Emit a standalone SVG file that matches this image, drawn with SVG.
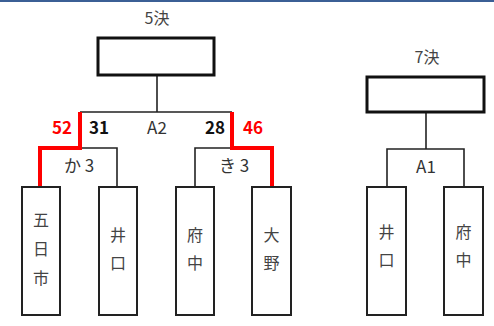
<svg xmlns="http://www.w3.org/2000/svg" width="494" height="326" viewBox="0 0 494 326">
<style>
text{font-family:"Noto Sans CJK JP","Noto Sans",sans-serif;font-size:17px;fill:#333;text-anchor:middle}
.b{font-weight:bold;fill:#111}
.r{font-weight:bold;fill:#ff0000}
.k{font-size:16px;fill:#444}
.head{fill:#fff;stroke:#111;stroke-width:3}
.team{fill:#fff;stroke:#222;stroke-width:2}
.ln{fill:none;stroke:#222;stroke-width:1.6}
.win{fill:none;stroke:#ff0000;stroke-width:4}
</style>
<rect x="0" y="0" width="494" height="326" fill="#fff"/>
<line x1="0" y1="1" x2="494" y2="1" stroke="#3b5f95" stroke-width="2"/>
<g id="connectors">
<path class="ln" d="M157 75V112M80 112H232M40 148H117V187M195 187V148H232"/>
<path class="ln" d="M426 112V149M387 187V149H464V187"/>
<path class="win" d="M80 112V148H40V187"/>
<path class="win" d="M232 112V148H272V187"/>
</g>
<g id="final5"><text class="k" x="157" y="24">5決</text><rect class="head" x="98" y="38" width="116" height="37"/></g>
<g id="final7"><text class="k" x="427" y="63">7決</text><rect class="head" x="367" y="77" width="117" height="35"/></g>
<g id="scores">
<text class="r" x="62" y="134">52</text>
<text class="b" x="99" y="134">31</text>
<text x="157" y="134">A2</text>
<text class="b" x="215" y="134">28</text>
<text class="r" x="253" y="134">46</text>
<text x="79" y="172">か 3</text>
<text x="234" y="172">き 3</text>
<text x="426" y="173">A1</text>
</g>
<g id="t1"><rect class="team" x="22" y="187" width="38" height="128"/><text class="k" x="41" y="226">五</text><text class="k" x="41" y="255">日</text><text class="k" x="41" y="284">市</text></g>
<g id="t2"><rect class="team" x="99" y="187" width="38" height="128"/><text class="k" x="118" y="241">井</text><text class="k" x="118" y="269">口</text></g>
<g id="t3"><rect class="team" x="176" y="187" width="38" height="128"/><text class="k" x="195" y="241">府</text><text class="k" x="195" y="269">中</text></g>
<g id="t4"><rect class="team" x="252" y="187" width="39" height="128"/><text class="k" x="271.5" y="241">大</text><text class="k" x="271.5" y="269">野</text></g>
<g id="t5"><rect class="team" x="367" y="187" width="39" height="128"/><text class="k" x="386.5" y="238">井</text><text class="k" x="386.5" y="266">口</text></g>
<g id="t6"><rect class="team" x="444" y="187" width="39" height="128"/><text class="k" x="463.5" y="238">府</text><text class="k" x="463.5" y="266">中</text></g>
</svg>
